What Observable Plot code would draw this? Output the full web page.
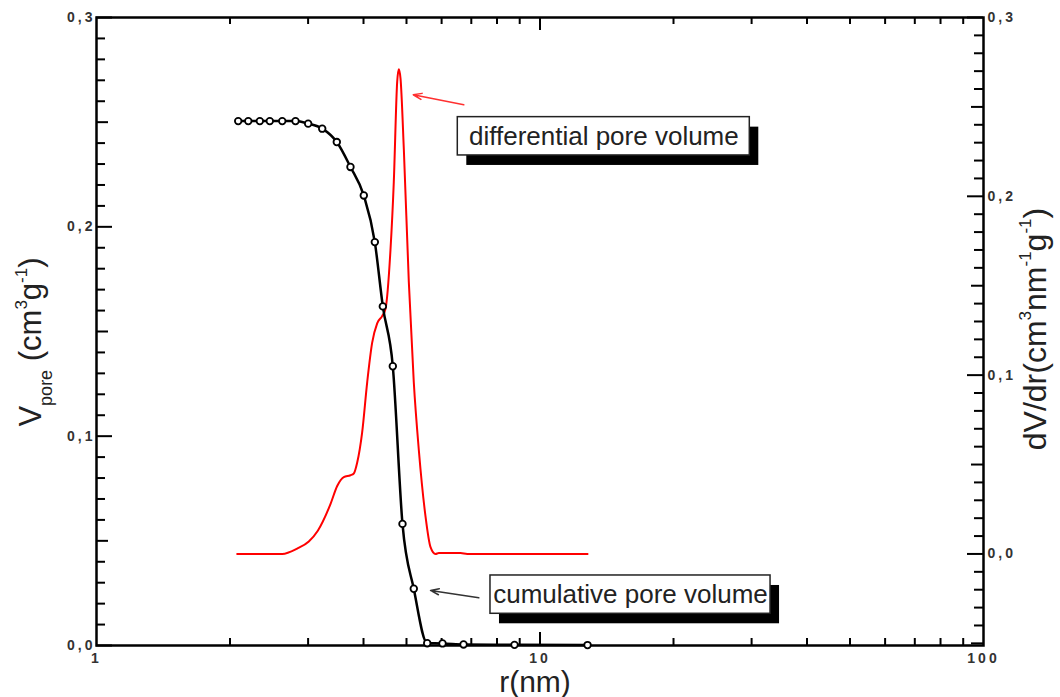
<!DOCTYPE html>
<html><head><meta charset="utf-8">
<script src="https://cdn.jsdelivr.net/npm/d3@7"></script>
<script src="https://cdn.jsdelivr.net/npm/@observablehq/plot@0.6"></script>
<style>body{margin:0;background:#fff} svg{display:block}</style>
</head><body><div id="chart"></div>
<script>
// cumulative pore volume (left axis)
const cumR = [2.087,2.199,2.335,2.459,2.623,2.810,3.001,3.228,3.482,3.738,4.006,4.242,4.422,4.657,4.897,5.193,5.568,6.028,6.724,8.760,12.80];
const cumV = [0.2505,0.2505,0.2505,0.2505,0.2505,0.2505,0.2493,0.2469,0.2405,0.2286,0.2150,0.1927,0.1620,0.1334,0.0581,0.0271,0.0011,0.0010,0.0005,0.0003,0.0002];
// differential pore volume (right axis)
const difR = [2.076,2.623,2.835,3.011,3.155,3.371,3.489,3.611,3.738,3.803,3.870,3.972,4.077,4.183,4.294,4.406,4.483,4.601,4.681,4.764,4.804,4.847,4.932,5.061,5.193,5.331,5.519,5.662,5.813,5.913,6.617,6.854,12.80];
const difV = [0,0,0.003,0.007,0.013,0.028,0.038,0.043,0.044,0.045,0.051,0.068,0.096,0.118,0.129,0.133,0.137,0.170,0.208,0.264,0.271,0.266,0.226,0.152,0.096,0.058,0.021,0.004,0,0.0005,0.0005,0,0];
// axes
const leftTicks = [0, 0.1, 0.2, 0.3];
const rightTicks = [0, 0.1, 0.2, 0.3];
const xTicks = [1, 10, 100];
const xMinor = [2,3,4,5,6,7,8,9,20,30,40,50,60,70,80,90];
const leftDomain = [0, 0.3];
const rightDomain = [-0.0512, 0.3];
const xDomain = [1, 100];
// annotations (data coordinates)
const annoText = ["differential pore volume", "cumulative pore volume"];
const annoX1 = [6.526, 7.733];
const annoX2 = [29.72, 33.1];
const annoY1 = [0.2341, 0.01515];
const annoY2 = [0.2524, 0.03345];
const annoTX = [13.93, 16.0];
const annoTY = [0.2432, 0.0244];
const arrowFrom = [[6.732, 0.2583], [7.278, 0.0228]];
const arrowTo = [[5.178, 0.2631], [5.664, 0.0263]];

const toLeft = v => (v - rightDomain[0]) / (rightDomain[1] - rightDomain[0]) * (leftDomain[1] - leftDomain[0]) + leftDomain[0];
const fromLeft = v => (v - leftDomain[0]) / (leftDomain[1] - leftDomain[0]) * (rightDomain[1] - rightDomain[0]) + rightDomain[0];
const fmt = v => (Math.abs(v) < 1e-6 ? 0 : v).toFixed(1).replace(".", ",");

const W = 1060, H = 697, mL = 96, mR = 77, mT = 17, mB = 52;
const iW = W - mL - mR, iH = H - mT - mB;

const r2 = v => Math.round(v * 100);
const leftAll = d3.range(0, 31).map(k => k / 100);
const lMaj = leftAll.filter(v => r2(v) % 10 === 0);
const lMid = leftAll.filter(v => r2(v) % 10 === 5);
const lMin = leftAll.filter(v => r2(v) % 5 !== 0);
const rightAll = d3.range(-5, 31).map(k => k / 100);
const rMaj = rightAll.filter(v => r2(v) % 10 === 0);
const rMid = rightAll.filter(v => Math.abs(r2(v) % 10) === 5);
const rMin = rightAll.filter(v => r2(v) % 5 !== 0);

const tk = {stroke: "black", strokeWidth: 2};
const idx2 = [0, 1];

const chart = Plot.plot({
  width: W, height: H,
  marginLeft: mL, marginRight: mR, marginTop: mT, marginBottom: mB,
  style: {fontFamily: "'Liberation Sans', Arial, sans-serif", background: "white", color: "#222"},
  x: {type: "log", domain: xDomain},
  y: {domain: leftDomain},
  marks: [
    Plot.ruleY(lMaj, {y: d => d, insetRight: iW - 16, ...tk}),
    Plot.ruleY(lMid, {y: d => d, insetRight: iW - 12, ...tk}),
    Plot.ruleY(lMin, {y: d => d, insetRight: iW - 9, ...tk}),
    Plot.ruleY(rMaj, {y: d => toLeft(d), insetLeft: iW - 16, ...tk}),
    Plot.ruleY(rMid, {y: d => toLeft(d), insetLeft: iW - 12, ...tk}),
    Plot.ruleY(rMin, {y: d => toLeft(d), insetLeft: iW - 9, ...tk}),
    Plot.ruleX([10], {x: d => d, insetTop: iH - 13, ...tk}),
    Plot.ruleX(xMinor, {x: d => d, insetTop: iH - 7, ...tk}),
    Plot.ruleX([10], {x: d => d, insetBottom: iH - 13, ...tk}),
    Plot.ruleX(xMinor, {x: d => d, insetBottom: iH - 7, ...tk}),
    Plot.frame({stroke: "black", strokeWidth: 2.5}),
    Plot.line(d3.range(difR.length), {x: i => difR[i], y: i => toLeft(difV[i]), stroke: "#ff0000", strokeWidth: 2, curve: "monotone-x"}),
    Plot.line(d3.range(cumR.length), {x: i => cumR[i], y: i => cumV[i], stroke: "black", strokeWidth: 2.5, curve: "monotone-x"}),
    Plot.dot(d3.range(cumR.length), {x: i => cumR[i], y: i => cumV[i], r: 3.3, fill: "white", stroke: "black", strokeWidth: 1.8}),
    Plot.arrow([0], {x1: i => arrowFrom[i][0], y1: i => arrowFrom[i][1], x2: i => arrowTo[i][0], y2: i => arrowTo[i][1], stroke: "#ff3030", strokeWidth: 1.5, headLength: 9, headAngle: 40}),
    Plot.arrow([1], {x1: i => arrowFrom[i][0], y1: i => arrowFrom[i][1], x2: i => arrowTo[i][0], y2: i => arrowTo[i][1], stroke: "#333", strokeWidth: 1.5, headLength: 9, headAngle: 40}),
    Plot.rect(idx2, {x1: i => annoX1[i], x2: i => annoX2[i], y1: i => annoY1[i], y2: i => annoY2[i], fill: "black", dx: 9, dy: 10}),
    Plot.rect(idx2, {x1: i => annoX1[i], x2: i => annoX2[i], y1: i => annoY1[i], y2: i => annoY2[i], fill: "white", stroke: "#222", strokeWidth: 1.5}),
    Plot.text(idx2, {x: i => annoTX[i], y: i => annoTY[i], text: i => annoText[i], fontSize: 26, fill: "#222"}),
    Plot.axisY(leftTicks, {anchor: "left", tickSize: 0, tickPadding: 1, tickFormat: fmt, fontSize: 14, fontWeight: "bold", fill: "#333", label: null}),
    Plot.axisY(rightTicks.map(toLeft), {anchor: "right", tickSize: 0, tickPadding: 4, tickFormat: v => fmt(fromLeft(v)), fontSize: 14, fontWeight: "bold", fill: "#333", label: null}),
    Plot.axisX(xTicks, {anchor: "bottom", tickSize: 0, tickPadding: 8, tickFormat: d => String(d), fontSize: 14, fontWeight: "bold", fill: "#333", label: null})
  ]
});
document.getElementById("chart").appendChild(chart);

const svg = d3.select(chart);
svg.selectAll('g[aria-label$="tick label"]').attr("letter-spacing", 3);

const ff = "'Liberation Sans', Arial, sans-serif";
// left title
const lt = svg.append("text").attr("transform", `translate(41,342) rotate(-90)`)
  .attr("text-anchor", "middle").attr("font-family", ff).attr("fill", "#222").attr("font-size", 31);
lt.append("tspan").text("V");
lt.append("tspan").attr("font-size", 18).attr("dy", 11).text("pore");
lt.append("tspan").attr("dy", -11).text(" (cm");
lt.append("tspan").attr("font-size", 17).attr("dy", -14).text("3");
lt.append("tspan").attr("dy", 14).text("g");
lt.append("tspan").attr("font-size", 17).attr("dy", -14).text("-1");
lt.append("tspan").attr("dy", 14).text(")");
// right title
const rt = svg.append("text").attr("transform", `translate(1046,329) rotate(-90)`)
  .attr("text-anchor", "middle").attr("font-family", ff).attr("fill", "#222").attr("font-size", 32);
rt.append("tspan").text("dV/dr(cm");
rt.append("tspan").attr("font-size", 17).attr("dy", -15).text("3");
rt.append("tspan").attr("dy", 15).text("nm");
rt.append("tspan").attr("font-size", 17).attr("dy", -15).text("-1");
rt.append("tspan").attr("dy", 15).text("g");
rt.append("tspan").attr("font-size", 17).attr("dy", -15).text("-1");
rt.append("tspan").attr("dy", 15).text(")");
// bottom title
svg.append("text").attr("x", 535).attr("y", 692).attr("text-anchor", "middle")
  .attr("font-family", ff).attr("fill", "#222").attr("font-size", 30).text("r(nm)");
</script>
</body></html>
